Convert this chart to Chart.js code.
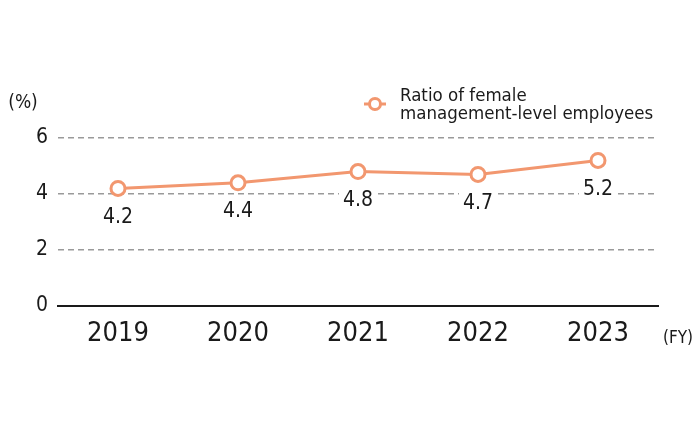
<!DOCTYPE html>
<html>
<head>
<meta charset="utf-8">
<script src="https://cdn.jsdelivr.net/npm/chart.js@4"></script>
<style>
  html, body { margin: 0; padding: 0; background: #fff; }
  #wrap { width: 700px; height: 432px; }
</style>
</head>
<body>
<div id="wrap"><canvas id="ratioChart" width="700" height="432"></canvas></div>
<script>
const years = ["2019", "2020", "2021", "2022", "2023"];
const femaleRatio = [4.2, 4.4, 4.8, 4.7, 5.2];
const yTicks = [0, 2, 4, 6];
const legendLines = ["Ratio of female", "management-level employees"];

const FONT = "'Liberation Sans Narrow', 'DejaVu Sans Condensed', 'Liberation Sans', sans-serif";
const ORANGE = "#f2976f";
const TEXT = "#1a1a1a";

// popisky hodnot pod body + jednotky + legenda
const extrasPlugin = {
    id: "extras",
    afterDatasetsDraw(chart) {
        const ctx = chart.ctx;
        const meta = chart.getDatasetMeta(0);
        ctx.save();
        ctx.font = "21px " + FONT;
        ctx.textAlign = "center";
        ctx.textBaseline = "middle";
        meta.data.forEach((pt, i) => {
            const label = femaleRatio[i].toFixed(1);
            const y = pt.y + 29;
            const w = ctx.measureText(label).width + 8;
            ctx.fillStyle = "#fff";
            ctx.fillRect(pt.x - w / 2, y - 12, w, 24);
            ctx.fillStyle = TEXT;
            ctx.fillText(label, pt.x, y);
        });

        // jednotky
        ctx.font = "19px " + FONT;
        ctx.fillText("(%)", 23, 103);
        ctx.font = "17px " + FONT;
        ctx.fillText("(FY)", 678, 339);

        // legenda
        const lx = 375, ly = 104;
        ctx.strokeStyle = ORANGE;
        ctx.lineWidth = 3;
        ctx.beginPath();
        ctx.moveTo(lx - 11, ly);
        ctx.lineTo(lx + 11, ly);
        ctx.stroke();
        ctx.beginPath();
        ctx.arc(lx, ly, 5.5, 0, Math.PI * 2);
        ctx.fillStyle = "#fff";
        ctx.fill();
        ctx.stroke();

        ctx.font = "18.5px " + FONT;
        ctx.fillStyle = TEXT;
        ctx.textAlign = "left";
        ctx.fillText(legendLines[0], 400, 96);
        ctx.fillText(legendLines[1], 400, 114);
        ctx.restore();
    }
};

new Chart(document.getElementById("ratioChart"), {
    type: "line",
    data: {
        labels: years,
        datasets: [{
            label: legendLines.join(" "),
            data: femaleRatio,
            borderColor: ORANGE,
            borderWidth: 3,
            pointRadius: 7,
            pointBorderWidth: 3,
            pointBackgroundColor: "#fff",
            pointBorderColor: ORANGE,
            tension: 0
        }]
    },
    options: {
        responsive: false,
        animation: false,
        events: [],
        layout: { padding: { top: 138, right: 42, left: 0, bottom: 0 } },
        plugins: {
            legend: { display: false },
            tooltip: { enabled: false }
        },
        scales: {
            x: {
                offset: true,
                grid: { display: false, drawTicks: false },
                border: { display: true, color: TEXT, width: 2 },
                ticks: { color: TEXT, font: { size: 27, family: FONT }, padding: 12 },
                afterFit: s => { s.height = 126; }
            },
            y: {
                min: 0,
                max: 6,
                afterBuildTicks: s => { s.ticks = yTicks.map(v => ({ value: v })); },
                grid: {
                    drawTicks: false,
                    color: c => c.tick && c.tick.value === 0 ? "rgba(0,0,0,0)" : "#9a9a9a",
                    lineWidth: 1.5
                },
                border: { display: false, dash: [6, 4] },
                ticks: { color: TEXT, font: { size: 21, family: FONT }, padding: 10 },
                afterFit: s => { s.width = 58; }
            }
        }
    },
    plugins: [extrasPlugin]
});
</script>
</body>
</html>
